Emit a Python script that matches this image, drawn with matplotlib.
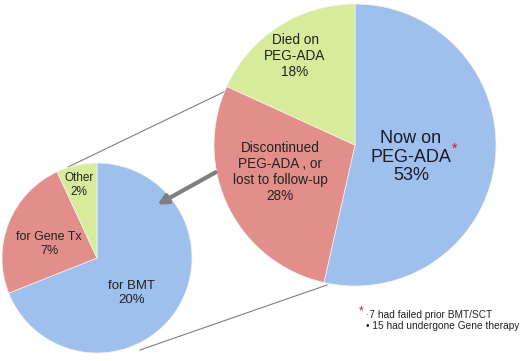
import matplotlib
matplotlib.use("Agg")
import matplotlib.pyplot as plt
from matplotlib.patches import FancyArrowPatch

plt.rcParams["font.family"] = ["Liberation Sans", "DejaVu Sans"]

# 主円グラフ
main_labels = ["Now on\nPEG-ADA", "Discontinued\nPEG-ADA , or\nlost to follow-up", "Died on\nPEG-ADA"]
main_values = [53, 28, 18]
main_colors = ["#9fbfec", "#e28f8b", "#d7eb9b"]

# 内訳の円グラフ
sub_labels = ["for BMT", "for Gene Tx", "Other"]
sub_values = [20, 7, 2]
sub_colors = ["#9fbfec", "#e28f8b", "#d7eb9b"]

notes = ["\u00b77 had failed prior BMT/SCT", "\u2022 15 had undergone Gene therapy"]

W, H = 520, 361


def py(y):
    # 画像座標(上から)をデータ座標に変換
    return H - y


fig = plt.figure(figsize=(W / 100, H / 100), dpi=100)
ax = fig.add_axes([0, 0, 1, 1])

# 接続線
ax.plot([68, 232], [py(167), py(88)], color="#7f7f7f", lw=0.8, zorder=1)
ax.plot([140, 327], [py(350), py(285)], color="#7f7f7f", lw=0.8, zorder=1)

ax.pie(main_values, center=(355, py(145)), radius=141, startangle=90,
       counterclock=False, colors=main_colors,
       wedgeprops=dict(linewidth=0.5, edgecolor="#f4f4f4"))
ax.pie(sub_values, center=(97, py(258)), radius=95, startangle=90,
       counterclock=False, colors=sub_colors,
       wedgeprops=dict(linewidth=0.5, edgecolor="#f4f4f4"))

# 矢印
arrow = FancyArrowPatch((218, py(171)), (155, py(206)), arrowstyle="-|>",
                        mutation_scale=14, color="#7f7f7f", lw=3, zorder=5)
ax.add_patch(arrow)

# ラベル
ax.text(411, py(157), main_labels[0] + "\n" + f"{main_values[0]}%", ha="center",
        va="center", fontsize=13, color="#1a1a2a", linespacing=1.12)
ax.text(455, py(149), "*", color="#d0102a", fontsize=10, ha="center", va="center")
ax.text(280, py(172), main_labels[1] + "\n" + f"{main_values[1]}%", ha="center",
        va="center", fontsize=9.8, color="#222222", linespacing=1.18)
ax.text(295, py(56), main_labels[2] + "\n" + f"{main_values[2]}%", ha="center",
        va="center", fontsize=9.8, color="#222222", linespacing=1.2)

ax.text(132, py(293), sub_labels[0] + "\n" + f"{sub_values[0]}%", ha="center",
        va="center", fontsize=9.5, color="#222222", linespacing=1.2)
ax.text(49, py(244), sub_labels[1] + "\n" + f"{sub_values[1]}%", ha="center",
        va="center", fontsize=9, color="#222222", linespacing=1.12)
ax.text(79, py(185), sub_labels[2] + "\n" + f"{sub_values[2]}%", ha="center",
        va="center", fontsize=8.5, color="#222222", linespacing=1.15)

# 注記
ax.text(361, py(311), "*", color="#d0102a", fontsize=8.5, ha="center", va="center")
ax.text(366, py(315), notes[0], fontsize=7.3, va="center", ha="left", color="#222222")
ax.text(366, py(326), notes[1], fontsize=7.3, va="center", ha="left", color="#222222")

ax.set_xlim(0, W)
ax.set_ylim(0, H)
ax.set_aspect("equal")
ax.axis("off")

fig.savefig("out.png", dpi=100)
